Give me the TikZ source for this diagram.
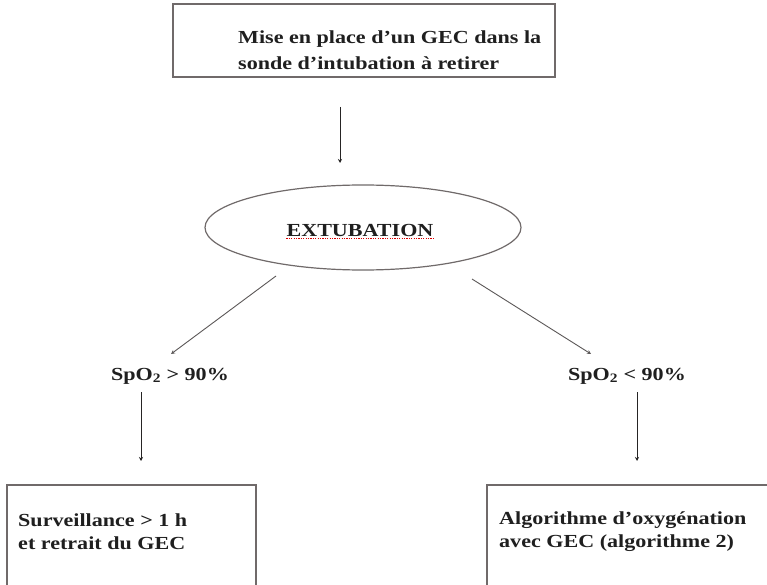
\documentclass[tikz,border=0pt]{standalone}
\usepackage{fontspec}
\setmainfont{Liberation Serif}[FakeStretch=1.2]
\usetikzlibrary{arrows.meta,shapes.geometric}

\definecolor{boxline}{RGB}{112,106,106}
\definecolor{arrowline}{RGB}{38,36,36}
\definecolor{diagline}{RGB}{92,88,88}

\tikzset{
  frame/.style={draw=boxline, line width=1.3pt, rectangle, inner sep=0pt},
  oval/.style={draw=boxline, line width=1.2pt, ellipse, inner sep=0pt,
               minimum width=316pt, minimum height=85pt},
  label18/.style={font=\fontsize{18.4}{23}\selectfont\bfseries, inner sep=0pt,
                  align=left, text=black!88},
  arr/.style={draw=arrowline, line width=1pt,
              -{Stealth[length=4pt,width=4pt]}},
  diag/.style={draw=diagline, line width=0.9pt,
               -{Stealth[length=4pt,width=4pt]}},
}

\begin{document}
\begin{tikzpicture}[x=1pt,y=-1pt]
  \clip (0,0) rectangle (767,585);
  \fill[white] (0,0) rectangle (767,585);

  % top box
  \node[frame, minimum width=382pt, minimum height=73pt] (topbox) at (364,40.5) {};
  \node[label18, anchor=west, font=\fontsize{18.4}{26}\selectfont\bfseries]
    (toptext) at (238,50) {Mise en place d’un GEC dans la\\sonde d’intubation à retirer};

  % extubation
  \node[oval] (ext) at (363,227.5) {};
  \node[label18] (exttext) at (360,230) {EXTUBATION};
  \draw[red!85!black, line width=0.9pt, dash pattern=on 1.2pt off 1.2pt]
    ([yshift=-2.5pt]exttext.base west) -- ([yshift=-2.5pt]exttext.base east);

  % SpO2 labels
  \node[label18] (low) at (170,376) {SpO\textsubscript{2} > 90\%};
  \node[label18] (high) at (627,376) {SpO\textsubscript{2} < 90\%};

  % bottom boxes
  \node[frame, minimum width=249pt, minimum height=130pt] (leftbox) at (131.5,550) {};
  \node[label18, anchor=west] (lefttext) at (18,531.5)
    {Surveillance > 1 h\\et retrait du GEC};
  \node[frame, minimum width=313pt, minimum height=130pt] (rightbox) at (643.5,550) {};
  \node[label18, anchor=west] (righttext) at (499,531.5)
    {Algorithme d’oxygénation\\avec GEC (algorithme 2)};

  % connector end points
  \coordinate (a1s) at (340,107);
  \coordinate (a1e) at (340,163);
  \coordinate (dls) at (276,276);
  \coordinate (dle) at (171,354);
  \coordinate (drs) at (472,279);
  \coordinate (dre) at (591,354);
  \coordinate (a2s) at (141,392);
  \coordinate (a2e) at (141,461);
  \coordinate (a3s) at (637,392);
  \coordinate (a3e) at (637,461);

  % connectors
  \draw[arr] (a1s) -- (a1e);
  \draw[diag] (dls) -- (dle);
  \draw[diag] (drs) -- (dre);
  \draw[arr] (a2s) -- (a2e);
  \draw[arr] (a3s) -- (a3e);
\end{tikzpicture}
\end{document}
